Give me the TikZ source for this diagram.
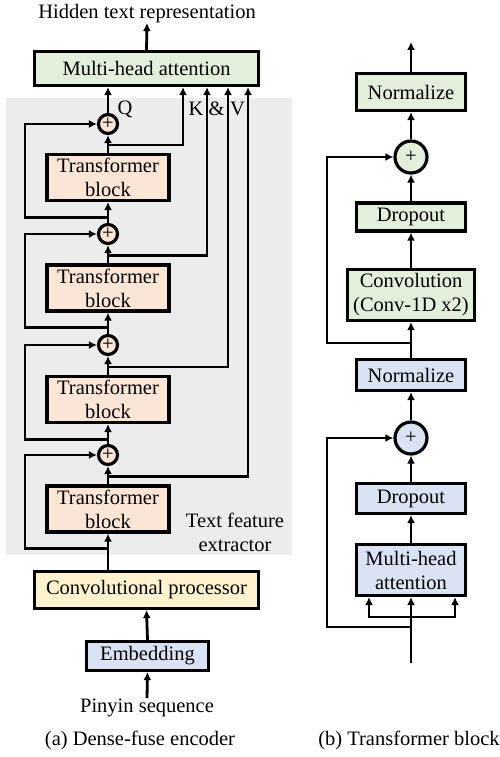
\documentclass[tikz,border=0pt]{standalone}
\usepackage{fontspec}
\setmainfont{Liberation Serif}
\usetikzlibrary{arrows.meta,positioning}
\definecolor{boxgreen}{RGB}{226,239,218}
\definecolor{boxpeach}{RGB}{251,229,214}
\definecolor{boxyellow}{RGB}{255,242,204}
\definecolor{boxblue}{RGB}{218,227,243}
\definecolor{bggray}{RGB}{236,236,236}
\tikzset{
  basic/.style  = {draw, line width=3.2pt, rectangle, inner sep=0pt, align=center,
                   font=\fontsize{20.5}{24}\selectfont},
  greenbox/.style  = {basic, fill=boxgreen},
  peachbox/.style  = {basic, fill=boxpeach},
  yellowbox/.style = {basic, fill=boxyellow},
  bluebox/.style   = {basic, fill=boxblue},
  sum/.style    = {draw, circle, line width=3.2pt, inner sep=0pt,
                   font=\fontsize{20.5}{24}\selectfont},
  lbl/.style    = {inner sep=0pt, align=center, font=\fontsize{20.5}{24}\selectfont},
  link/.style   = {line width=2.8pt, ->},
}

\begin{document}
\begin{tikzpicture}[x=1pt, y=-1pt, >={Latex[length=8pt,width=8pt]}]
\useasboundingbox (0,0) rectangle (500,757);
\fill[bggray] (6,98) rectangle (292,555);

% (a) dense-fuse encoder
\node[lbl, anchor=base] (hid) at (147,18.5) {Hidden text representation};
\node[greenbox, minimum width=224pt, minimum height=34pt] (mha) at (146.5,68.5) {Multi-head attention};

\foreach \i/\py/\ty in {1/124/177.5, 2/234/288, 3/345/399.5, 4/455/509} {
  \node[sum, fill=boxpeach, minimum size=19pt] (p\i) at (108,\py) {+};
  \node[peachbox, minimum width=122pt, minimum height=46pt] (tb\i) at (108,\ty) {Transformer\\block};
}

\node[lbl, anchor=base] (q) at (125,115) {Q};
\node[lbl, anchor=base] (k) at (196,116) {K};
\node[lbl, anchor=base] (amp) at (216.5,116) {\&};
\node[lbl, anchor=base] (v) at (237.5,116) {V};

\node[lbl] (tfe) at (235,532) {Text feature\\extractor};
\node[yellowbox, minimum width=224pt, minimum height=37pt] (conv) at (146.5,590) {Convolutional processor};
\node[bluebox, minimum width=122pt, minimum height=29pt] (emb) at (147.5,656) {Embedding};
\node[lbl, anchor=base] (pin) at (147,712) {Pinyin sequence};
\node[lbl, anchor=base] (capa) at (140,745) {(a) Dense-fuse encoder};

\draw[link] (mha.north) -- (hid.south);
\draw[link] (p1.north) -- (p1.north |- mha.south);
\draw[link] (emb.north) -- (conv.south);
\draw[link] (pin.north) -- (emb.south);
\draw[link] (tb4.south |- conv.north) -- (tb4.south);

\foreach \i in {1,...,4}
  \draw[link] (tb\i.north) -- (p\i.south);
\foreach \i/\j in {1/2,2/3,3/4}
  \draw[link] (p\j.north) -- (tb\i.south);

% residual skips
\foreach \i in {1,...,4} {
  \path (tb\i.south) ++(0,15) coordinate (s\i);
  \draw[link] (s\i) -- ++(-83,0) |- (p\i.west);
}

% keys and values
\foreach \i/\kx in {1/183, 2/207, 3/228, 4/248} {
  \path (tb\i.north) ++(0,-8) coordinate (k\i);
  \draw[link] (k\i) -| (\kx,0 |- mha.south);
}

% (b) transformer block
\coordinate (outb) at (411,42);
\node[greenbox, minimum width=109pt, minimum height=37pt] (nrmb) at (411,92) {Normalize};
\node[sum, fill=boxgreen, minimum size=32pt] (sumb) at (411,157) {+};
\node[greenbox, minimum width=109pt, minimum height=28pt] (dropb) at (411,217) {Dropout};
\node[greenbox, minimum width=127pt, minimum height=51pt] (conv1d) at (411,295) {Convolution\\(Conv-1D x2)};
\node[bluebox, minimum width=109pt, minimum height=31pt] (nrma) at (411,375) {Normalize};
\node[sum, fill=boxblue, minimum size=32pt] (suma) at (411,438) {+};
\node[bluebox, minimum width=109pt, minimum height=30pt] (dropa) at (411,498.5) {Dropout};
\node[bluebox, minimum width=109pt, minimum height=51pt] (mhab) at (411,570) {Multi-head\\attention};
\coordinate (inb) at (411,663);
\coordinate (fork) at (411,617);
\coordinate (tapb) at (411,343);
\coordinate (tapa) at (411,627);
\node[lbl, anchor=base] (capb) at (409,745) {(b) Transformer block};

\draw[link] (nrmb.north) -- (outb);
\draw[link] (sumb.north) -- (nrmb.south);
\draw[link] (dropb.north) -- (sumb.south);
\draw[link] (conv1d.north) -- (dropb.south);
\draw[link] (nrma.north) -- (conv1d.south);
\draw[link] (suma.north) -- (nrma.south);
\draw[link] (dropa.north) -- (suma.south);
\draw[link] (mhab.north) -- (dropa.south);
\draw[link] (inb) -- (mhab.south);
\draw[link] (fork) -| ([xshift=-42pt]mhab.south);
\draw[link] (fork) -| ([xshift=44pt]mhab.south);
\draw[link] (tapb) -- ++(-84,0) |- (sumb.west);
\draw[link] (tapa) -- ++(-84,0) |- (suma.west);
\end{tikzpicture}
\end{document}
